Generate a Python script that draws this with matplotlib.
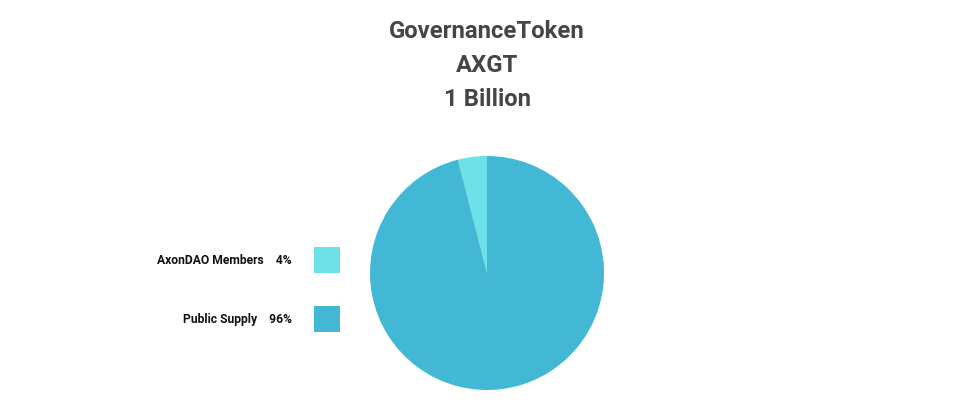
import matplotlib.pyplot as plt
from matplotlib.patches import Rectangle

# data
labels = ['AxonDAO Members', 'Public Supply']
shares = [4, 96]
colors = ['#6ce1e7', '#42b8d5']
title_lines = ['GovernanceToken', 'AXGT', '1 Billion']

W, H = 959, 412
fig = plt.figure(figsize=(W / 100, H / 100), dpi=100)
fig.patch.set_facecolor('white')
plt.rcParams['font.family'] = ['Roboto', 'DejaVu Sans']

# title
for i, line in enumerate(title_lines):
    fig.text(487 / W, 1 - (31 + i * 34) / H, line, ha='center', va='center',
             fontsize=17.2, fontweight='bold', color='#454545')

# pie
r = 117
cx, cy = 487, H - 273
ax = fig.add_axes([(cx - r) / W, (cy - r) / H, 2 * r / W, 2 * r / H])
ax.pie(shares, colors=colors, startangle=90, counterclock=True,
       wedgeprops={'linewidth': 0})
ax.set_xlim(-1, 1)
ax.set_ylim(-1, 1)
ax.set_aspect('equal')
ax.axis('off')

# legend
ys = [260, 319]
for lab, s, c, y in zip(labels, shares, colors, ys):
    fig.text(292 / W, 1 - y / H, f'{lab}    {s}%', ha='right', va='center',
             fontsize=8.75, fontweight='bold', color='#111111')
    fig.patches.append(Rectangle((314 / W, 1 - (y + 13) / H), 26 / W, 26 / H,
                                 transform=fig.transFigure, facecolor=c,
                                 edgecolor='none'))

fig.savefig('out.png', dpi=100)
